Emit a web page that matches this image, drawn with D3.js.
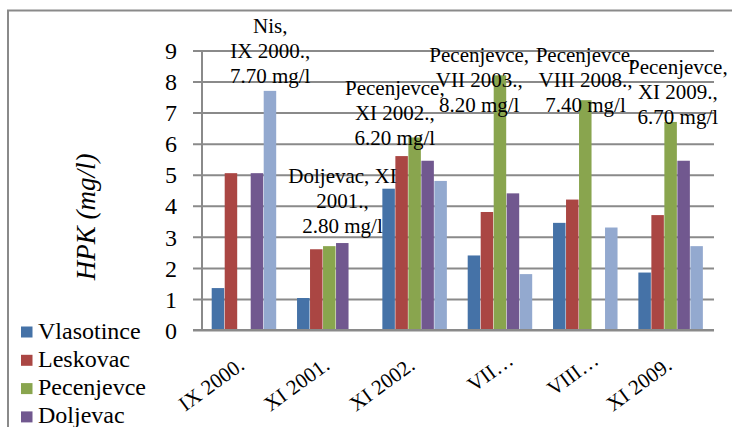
<!DOCTYPE html>
<html lang="en">
<head>
<meta charset="UTF-8">
<title>HPK</title>
<script src="https://d3js.org/d3.v7.min.js"></script>
<style>
    body { margin: 0; background: #fff; }
    svg text { fill: #000; }
</style>
</head>
<body>
<div id="chart"></div>
<script>
// chart data
const categories = ["IX 2000.", "XI 2001.", "XI 2002.", "VII 2003.", "VIII 2008.", "XI 2009."];
const catLabels = ["IX 2000.", "XI 2001.", "XI 2002.", "VII\u2026", "VIII\u2026", "XI 2009."];
const series = ["Vlasotince", "Leskovac", "Pecenjevce", "Doljevac", "Nis"];
const vlasotince = [1.35, 1.03, 4.55, 2.40, 3.45, 1.85];
const leskovac   = [5.05, 2.60, 5.60, 3.80, 4.20, 3.70];
const pecenjevce = [null, 2.70, 6.20, 8.20, 7.40, 6.70];
const doljevac   = [5.05, 2.80, 5.45, 4.40, null, 5.45];
const nis        = [7.70, null, 4.80, 1.80, 3.30, 2.70];
const yTicks = [0, 1, 2, 3, 4, 5, 6, 7, 8, 9];
const colors = ["#4572a7", "#aa4643", "#89a54e", "#71588f", "#93a9cf"];

// data labels: [series, category index, lines]
const dataLabels = [
    ["Nis", 0, ["Nis,", "IX 2000.,", "7.70 mg/l"]],
    ["Doljevac", 1, ["Doljevac, XI", "2001.,", "2.80 mg/l"]],
    ["Pecenjevce", 2, ["Pecenjevce,", "XI 2002.,", "6.20 mg/l"]],
    ["Pecenjevce", 3, ["Pecenjevce,", "VII 2003.,", "8.20 mg/l"]],
    ["Pecenjevce", 4, ["Pecenjevce,", "VIII 2008.,", "7.40 mg/l"]],
    ["Pecenjevce", 5, ["Pecenjevce,", "XI 2009.,", "6.70 mg/l"]]
];

const values = [vlasotince, leskovac, pecenjevce, doljevac, nis];
const W = 732, H = 427;
const plot = { left: 202, right: 714, top: 50.5, bottom: 330 };
const grid = "#8a8a8a";
const serif = "'Times New Roman', 'Liberation Serif', serif";

const svg = d3.select("#chart").append("svg")
    .attr("width", W).attr("height", H)
    .attr("font-family", serif);

// outer frame (runs off the right and bottom)
svg.append("rect")
    .attr("x", 8).attr("y", 10.5).attr("width", 760).attr("height", 460)
    .attr("fill", "none").attr("stroke", grid).attr("stroke-width", 2);

const x0 = d3.scaleBand().domain(categories).range([plot.left, plot.right]);
const x1 = d3.scaleBand().domain(series).range([9.7, 74.7]);
const y = d3.scaleLinear().domain([0, 9]).range([plot.bottom, plot.top]);

// gridlines + ticks
const yAxis = d3.axisLeft(y).tickValues(yTicks).tickSize(-(plot.right - plot.left));
const gy = svg.append("g").attr("transform", `translate(${plot.left},0)`).call(yAxis)
    .attr("font-family", serif).attr("font-size", 24);
gy.select(".domain").remove();
gy.selectAll(".tick line").attr("stroke", grid).attr("stroke-width", 2).attr("x1", -9);
gy.selectAll(".tick text").attr("x", -25).attr("dy", "0.34em");

// vertical axis line
svg.append("line")
    .attr("x1", plot.left).attr("x2", plot.left)
    .attr("y1", y(9)).attr("y2", y(0))
    .attr("stroke", grid).attr("stroke-width", 2);

// bars
const rows = [];
categories.forEach((c, i) => {
    series.forEach((s, j) => {
        if (values[j][i] != null) rows.push({ cat: c, s: s, v: values[j][i], col: colors[j] });
    });
});
svg.append("g").selectAll("rect")
    .data(rows)
    .enter()
    .append("rect")
    .attr("x", d => x0(d.cat) + x1(d.s))
    .attr("y", d => y(d.v))
    .attr("width", x1.bandwidth() - 0.5)
    .attr("height", d => y(0) - y(d.v))
    .attr("fill", d => d.col);

// bottom axis line over the bars
svg.append("line")
    .attr("x1", plot.left - 9).attr("x2", plot.right)
    .attr("y1", y(0)).attr("y2", y(0))
    .attr("stroke", grid).attr("stroke-width", 2);

// category labels (rotated)
const catShift = [1, 1, 1, 14, 14, 2];
svg.append("g").selectAll("text")
    .data(categories)
    .enter()
    .append("text")
    .attr("transform", (d, i) => `translate(${x0(d) + x0.bandwidth() / 2 + catShift[i]},${i === 3 || i === 4 ? 363 : 368}) rotate(-36)`)
    .attr("text-anchor", "end")
    .attr("font-size", 21)
    .text((d, i) => catLabels[i]);

// data labels: offset of last line from the bar top
const labelOff = [[0, -8], [0, -10], [-20, 8], [-21, 37], [0, 12], [7, 2]];
const lineH = 25;
dataLabels.forEach((lab, k) => {
    const si = series.indexOf(lab[0]);
    const cat = categories[lab[1]];
    const v = values[si][lab[1]];
    const cx = x0(cat) + x1(lab[0]) + x1.bandwidth() / 2 + labelOff[k][0];
    const last = y(v) + labelOff[k][1];
    const t = svg.append("text")
        .attr("text-anchor", "middle")
        .attr("font-size", 21);
    lab[2].forEach((line, li) => {
        t.append("tspan")
            .attr("x", cx)
            .attr("y", last - (lab[2].length - 1 - li) * lineH)
            .text(line);
    });
});

// y axis title
svg.append("text")
    .attr("transform", "translate(95,217) rotate(-90)")
    .attr("text-anchor", "middle")
    .attr("font-size", 27)
    .attr("font-style", "italic")
    .text("HPK (mg/l)");

// legend
const lg = svg.append("g").selectAll("g")
    .data(series)
    .enter()
    .append("g")
    .attr("transform", (d, i) => `translate(21,${326.5 + i * 28.3})`);
lg.append("rect").attr("width", 11.5).attr("height", 11).attr("fill", (d, i) => colors[i]);
lg.append("text").attr("x", 17).attr("y", 12).attr("font-size", 24).text(d => d);
</script>
</body>
</html>
